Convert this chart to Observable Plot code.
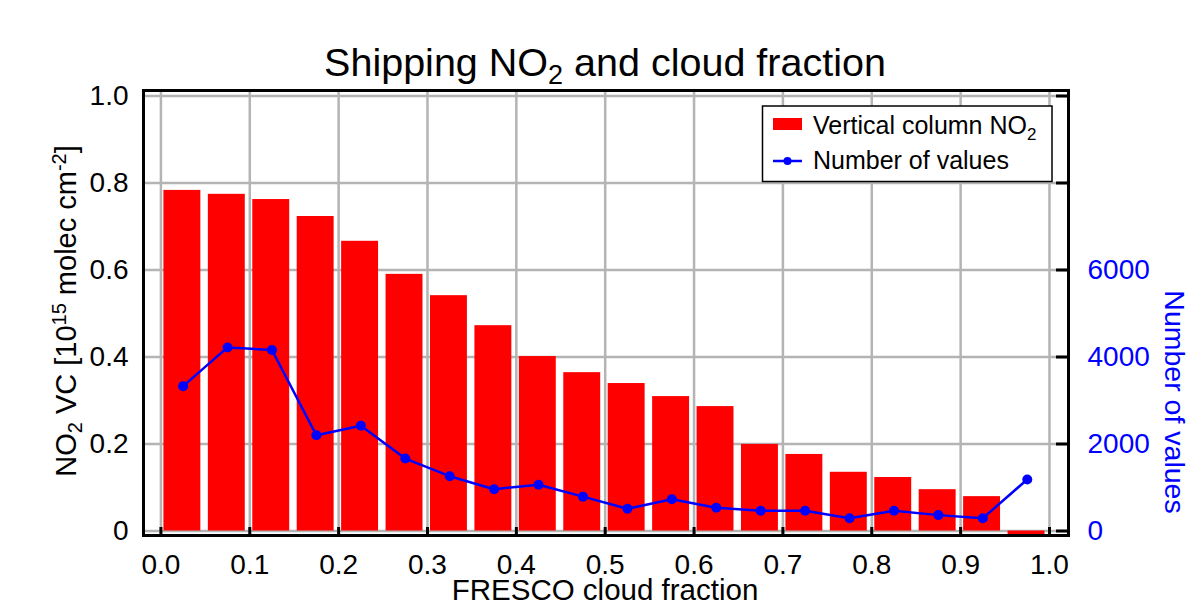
<!DOCTYPE html>
<html>
<head>
<meta charset="utf-8">
<script src="https://cdn.jsdelivr.net/npm/d3@7"></script>
<script src="https://cdn.jsdelivr.net/npm/@observablehq/plot@0.6"></script>
<style>
  html, body { margin: 0; padding: 0; background: white; }
  #chart { width: 1191px; height: 604px; }
</style>
</head>
<body>
<div id="chart"></div>
<script>
// ---- data ----
const binCenters = [0.025, 0.075, 0.125, 0.175, 0.225, 0.275, 0.325, 0.375, 0.425, 0.475,
                    0.525, 0.575, 0.625, 0.675, 0.725, 0.775, 0.825, 0.875, 0.925, 0.975];
const no2VC = [0.783, 0.774, 0.762, 0.723, 0.666, 0.590, 0.541, 0.472, 0.401, 0.364,
               0.339, 0.309, 0.286, 0.199, 0.176, 0.135, 0.123, 0.095, 0.079, -0.015];
const nValues = [3330, 4220, 4160, 2200, 2420, 1665, 1260, 960, 1065, 790,
                 510, 730, 535, 465, 465, 295, 465, 365, 295, 1185];
const xTicks = [0, 0.1, 0.2, 0.3, 0.4, 0.5, 0.6, 0.7, 0.8, 0.9, 1.0];
const yTicks = [0, 0.2, 0.4, 0.6, 0.8, 1.0];
const rightTicks = [0, 2000, 4000, 6000];
const binWidth = 0.05;
const countScale = 10000; // 10000 values on the right axis = 1.0 on the left axis

const FONT = "'Liberation Sans', Arial, Helvetica, sans-serif";
const data = binCenters.map((c, i) => ({c, vc: no2VC[i], n: nValues[i]}));

const plot = Plot.plot({
  width: 1191,
  height: 604,
  marginLeft: 143,
  marginRight: 123,
  marginTop: 90,
  marginBottom: 69,
  style: {fontFamily: FONT, fontSize: "28px", background: "white", color: "black", overflow: "visible"},
  x: {domain: [-0.0196, 1.0214]},
  y: {domain: [-0.01034, 1.01264]},
  marks: [
    Plot.gridX(xTicks, {stroke: "#b4b4b4", strokeOpacity: 1, strokeWidth: 2.5}),
    Plot.gridY(yTicks, {stroke: "#b4b4b4", strokeOpacity: 1, strokeWidth: 2.5}),
    Plot.rect(data, {x1: d => d.c - binWidth / 2, x2: d => d.c + binWidth / 2, y1: 0, y2: "vc",
                     fill: "#ff0000", insetLeft: 3, insetRight: 4.5, clip: true}),
    Plot.line(data, {x: "c", y: d => d.n / countScale, stroke: "#0000ff", strokeWidth: 2.5}),
    Plot.dot(data, {x: "c", y: d => d.n / countScale, r: 5, fill: "#0000ff", stroke: "none"}),
    Plot.tickX(xTicks, {x: d => d, stroke: "black", strokeWidth: 3, insetTop: 437}),
    Plot.tickY(yTicks, {y: d => d, stroke: "black", strokeWidth: 3, insetLeft: 913}),
    Plot.axisX(xTicks, {tickSize: 0, tickPadding: 19, tickFormat: d3.format(".1f"), label: null, fontSize: 28}),
    Plot.axisY(yTicks, {anchor: "left", tickSize: 0, tickPadding: 15,
                        tickFormat: d => d === 0 ? "0" : d3.format(".1f")(d), label: null, fontSize: 28}),
    Plot.axisY(rightTicks.map(v => v / countScale), {anchor: "right", tickSize: 0, tickPadding: 19,
                        tickFormat: d => String(Math.round(d * countScale)), color: "#0000ff", label: null, fontSize: 28}),
    Plot.frame({stroke: "black", strokeWidth: 3})
  ]
});

document.getElementById("chart").appendChild(plot);

// ---- texts with sub/superscripts, legend ----
const svg = d3.select(plot);
const g = svg.append("g").attr("font-family", FONT);

// Title
const title = g.append("text").attr("x", 605).attr("y", 76).attr("text-anchor", "middle")
  .attr("font-size", 39.5).attr("fill", "black");
title.append("tspan").text("Shipping NO");
title.append("tspan").attr("font-size", 27).attr("dy", 8).text("2");
title.append("tspan").attr("dy", -8).text(" and cloud fraction");

// X label
g.append("text").attr("x", 605).attr("y", 600).attr("text-anchor", "middle")
  .attr("font-size", 29.5).attr("fill", "black").text("FRESCO cloud fraction");

// Left Y label
const yl = g.append("text").attr("transform", "translate(76,311) rotate(-90)")
  .attr("text-anchor", "middle").attr("font-size", 29).attr("fill", "black");
yl.append("tspan").text("NO");
yl.append("tspan").attr("font-size", 20).attr("dy", 6).text("2");
yl.append("tspan").attr("dy", -6).text(" VC [10");
yl.append("tspan").attr("font-size", 20).attr("dy", -10).text("15");
yl.append("tspan").attr("dy", 10).text(" molec cm");
yl.append("tspan").attr("font-size", 20).attr("dy", -10).text("-2");
yl.append("tspan").attr("dy", 10).text("]");

// Right Y label
g.append("text").attr("transform", "translate(1165,402) rotate(90)")
  .attr("text-anchor", "middle").attr("font-size", 28.5).attr("fill", "#0000ff").text("Number of values");

// Legend
const lg = g.append("g").attr("text-anchor", "start");
lg.append("rect").attr("x", 762.5).attr("y", 106).attr("width", 289.5).attr("height", 75.5)
  .attr("fill", "white").attr("stroke", "black").attr("stroke-width", 1.5);
lg.append("rect").attr("x", 773).attr("y", 118).attr("width", 29).attr("height", 12).attr("fill", "#ff0000");
const l1 = lg.append("text").attr("x", 813).attr("y", 134).attr("font-size", 25)
  .attr("text-anchor", "start").attr("fill", "black");
l1.append("tspan").text("Vertical column NO");
l1.append("tspan").attr("font-size", 17).attr("dy", 6).text("2");
lg.append("line").attr("x1", 773).attr("x2", 802).attr("y1", 161).attr("y2", 161)
  .attr("stroke", "#0000ff").attr("stroke-width", 2.5);
lg.append("circle").attr("cx", 787.5).attr("cy", 161).attr("r", 4).attr("fill", "#0000ff");
lg.append("text").attr("x", 813).attr("y", 169).attr("font-size", 25)
  .attr("text-anchor", "start").attr("fill", "black").text("Number of values");
</script>
</body>
</html>
